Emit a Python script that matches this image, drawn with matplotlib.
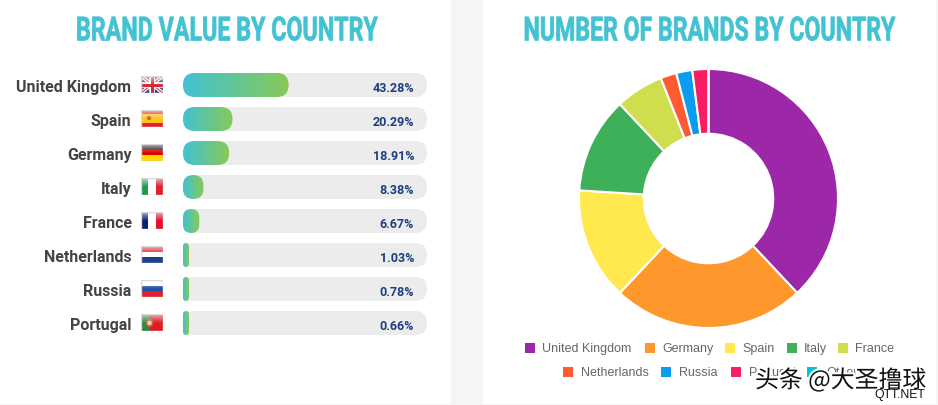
import numpy as np
import matplotlib
matplotlib.use('Agg')
import matplotlib.pyplot as plt
import matplotlib.patheffects as pe
from matplotlib.colors import LinearSegmentedColormap, to_rgb
from matplotlib.patches import FancyBboxPatch, Rectangle, Circle
from matplotlib.text import Text
from matplotlib.transforms import Affine2D, Bbox

# data
countries = ['United Kingdom', 'Spain', 'Germany', 'Italy', 'France',
             'Netherlands', 'Russia', 'Portugal']
brand_value = [43.28, 20.29, 18.91, 8.38, 6.67, 1.03, 0.78, 0.66]
value_labels = ['43.28%', '20.29%', '18.91%', '8.38%', '6.67%', '1.03%', '0.78%', '0.66%']

donut_names = ['United Kingdom', 'Germany', 'Spain', 'Italy', 'France',
               'Netherlands', 'Russia', 'Portugal', 'Other']
donut_counts = [19, 12, 7, 6, 3, 1, 1, 1, 0]
donut_colors = ['#9c27a8', '#ff982c', '#ffe94f', '#3eb05a', '#d0dd4d',
                '#ff5a32', '#0a9cf0', '#f91c66', '#00c4dc']

W, H = 938, 406
TEAL = '#42c2d2'
GREEN = '#88c957'

fig = plt.figure(figsize=(W / 100, H / 100), dpi=100, facecolor='#f5f5f5')


def px_axes(x0, y0, x1, y1):
    # axes given in picture pixels, y going down
    return fig.add_axes([x0 / W, 1 - y1 / H, (x1 - x0) / W, (y1 - y0) / H])


# no condensed font here, so the title glyphs get squeezed sideways while drawn
class Squeeze(pe.AbstractPathEffect):
    def __init__(self, sx, cx, bold=0.0):
        super().__init__()
        self.sx = sx
        self.cx = cx
        self.bold = bold

    def draw_path(self, renderer, gc, tpath, affine, rgbFace=None):
        squeezed = affine + Affine2D().translate(-self.cx, 0).scale(self.sx, 1).translate(self.cx, 0)
        gc0 = renderer.new_gc()
        gc0.copy_properties(gc)
        gc0.set_linewidth(self.bold)
        gc0.set_foreground(rgbFace)
        renderer.draw_path(gc0, tpath, squeezed, rgbFace)
        gc0.restore()


class NarrowText(Text):
    sx = 1.0

    def get_window_extent(self, renderer=None, dpi=None):
        bb = super().get_window_extent(renderer, dpi)
        mid = (bb.x0 + bb.x1) / 2
        half = bb.width * self.sx / 2
        return Bbox.from_extents(mid - half, bb.y0, mid + half, bb.y1)


def squeezed_title(cx, baseline, s, width_px):
    t = NarrowText(cx, baseline, s, color=TEAL, fontsize=24, fontweight='bold',
                   family='Roboto', ha='center', va='baseline')
    page.add_artist(t)
    full = Text.get_window_extent(t, fig.canvas.get_renderer()).width
    t.sx = width_px / full
    mid = page.transData.transform((cx, baseline))[0]
    t.set_path_effects([Squeeze(t.sx, mid, bold=0.5)])
    return t


# page layer, everything in pixels
page = px_axes(0, 0, W, H)
page.set_xlim(0, W)
page.set_ylim(H, 0)
page.axis('off')
page.add_patch(Rectangle((0, 0), 451, 405, fc='white', ec='none'))
page.add_patch(Rectangle((483, 0), 453, 405, fc='white', ec='none'))

squeezed_title(227, 41.5, 'BRAND VALUE BY COUNTRY', 302)
squeezed_title(709.5, 41.5, 'NUMBER OF BRANDS BY COUNTRY', 372)

# bars
row_h = 34
bar_top = 69
ax = px_axes(183, bar_top, 427, bar_top + row_h * len(countries))
ax.set_xlim(0, 100)
ax.set_ylim(len(countries), 0)
ax.axis('off')
px_x = 244 / 100
px_y = row_h
gradient = LinearSegmentedColormap.from_list('tg', [TEAL, GREEN])


def round_bar(row, width_px, **kw):
    r = min(12, width_px / 2)
    p = FancyBboxPatch((0, row + 0.5 - 12 / px_y), width_px / px_x, 24 / px_y,
                       boxstyle='round,pad=0,rounding_size=%f' % (r / px_x),
                       mutation_aspect=px_x / px_y, ec='none', **kw)
    ax.add_patch(p)
    return p


for i, (val, lab) in enumerate(zip(brand_value, value_labels)):
    round_bar(i, 244, fc='#ececec')
    bw = max(val * px_x, 6)
    clip = round_bar(i, bw, fc='none')
    im = ax.imshow(np.linspace(0, 1, 64).reshape(1, -1), cmap=gradient, aspect='auto',
                   extent=(0, bw / px_x, i + 1, i), zorder=3)
    im.set_clip_path(clip)
    ax.text(100 - 13 / px_x, i + 0.56, lab, color='#1b3f80', fontsize=9, fontweight='bold',
            family='Roboto', ha='right', va='center', zorder=4)
ax.set_xlim(0, 100)
ax.set_ylim(len(countries), 0)


# flags
def bands(cols, horizontal=True):
    a = np.array([[to_rgb(c)] for c in cols])
    return a if horizontal else a.transpose(1, 0, 2)


def draw_flag(row, name):
    x0, x1 = 141, 163
    yc = bar_top + row_h * (row + 0.5)
    y0, y1 = yc - 9, yc + 8
    fa = px_axes(x0, y0, x1, y1)
    fa.set_xlim(0, 22)
    fa.set_ylim(17, 0)
    fa.axis('off')
    ext = (0, 22, 17, 0)
    kw = dict(extent=ext, aspect='auto', interpolation='nearest')
    if name == 'United Kingdom':
        fa.imshow(bands(['#2d4a8e']), **kw)
        for (a, b) in [((0, 0), (22, 17)), ((0, 17), (22, 0))]:
            fa.plot(*zip(a, b), color='white', lw=2.6, solid_capstyle='butt')
            fa.plot(*zip(a, b), color='#d8344a', lw=0.8, solid_capstyle='butt')
        fa.plot([11, 11], [0, 17], color='white', lw=4)
        fa.plot([0, 22], [8.5, 8.5], color='white', lw=4)
        fa.plot([11, 11], [0, 17], color='#d8283c', lw=2.2)
        fa.plot([0, 22], [8.5, 8.5], color='#d8283c', lw=2.2)
    elif name == 'Spain':
        fa.imshow(bands(['#e8202a', '#ffc51e', '#ffc51e', '#e8202a']), **kw)
        fa.add_patch(Circle((8, 8), 2.2, fc='#d0602a', ec='none'))
    elif name == 'Germany':
        fa.imshow(bands(['#222222', '#dd0000', '#ffd800']), **kw)
    elif name == 'Italy':
        fa.imshow(bands(['#1f9a4a', '#ffffff', '#e0202a'], False), **kw)
    elif name == 'France':
        fa.imshow(bands(['#0a1f78', '#ffffff', '#e0102a'], False), **kw)
    elif name == 'Netherlands':
        fa.imshow(bands(['#d8202a', '#ffffff', '#1f3f8f']), **kw)
    elif name == 'Russia':
        fa.imshow(bands(['#ffffff', '#1f4fa8', '#e0202a']), **kw)
    elif name == 'Portugal':
        fa.imshow(np.array([[to_rgb('#2b8a3e')] * 2 + [to_rgb('#e01c24')] * 3]), **kw)
        fa.add_patch(Circle((8.5, 9), 3.2, fc='#e8d8a0', ec='#c05a40', lw=1.2))
    # glossy top fade and pale edge
    fade = np.ones((17, 1, 4))
    fade[:, 0, 3] = np.clip(0.6 - np.arange(17) / 14, 0, 1)
    fa.imshow(fade, extent=ext, aspect='auto', zorder=5)
    fa.add_patch(Rectangle((0, 0), 22, 17, fc='none', ec='#d8d8d8', lw=1, zorder=6))
    fa.set_xlim(0, 22)
    fa.set_ylim(17, 0)


for i, c in enumerate(countries):
    page.text(131.5, bar_top + row_h * (i + 0.5) + 1.3, c, color='#444444', fontsize=11.5,
              fontweight='bold', family='Roboto', ha='right', va='center')
    draw_flag(i, c)

# donut
cx, cy, r = 708.5, 199.5, 129.5
pie_ax = px_axes(cx - r, cy - r, cx + r, cy + r)
wedges, _ = pie_ax.pie(donut_counts, colors=donut_colors, startangle=90, counterclock=False,
                       radius=1, wedgeprops=dict(width=0.5, edgecolor='white', linewidth=1.5))
pie_ax.set_xlim(-1, 1)
pie_ax.set_ylim(-1, 1)

# legend, two centred rows
legend_rows = [
    (349, [(525, 542), (645, 662), (725, 742), (787, 804), (838, 855)], donut_names[:5]),
    (373, [(563, 581), (661, 679), (731, 749), (807, 826)], donut_names[5:]),
]
colors = iter(donut_colors)
for y, spots, labs in legend_rows:
    for (mx, tx), lab in zip(spots, labs):
        page.add_patch(Rectangle((mx, y - 5), 10, 10, fc=next(colors), ec='none'))
        page.text(tx, y, lab, color='#666666', fontsize=9, family='Liberation Sans',
                  ha='left', va='center')

# watermark
stroke = [pe.withStroke(linewidth=3, foreground='white')]
page.text(755, 381, '头条 @大圣撸球', color='#111111', fontsize=17.2,
          family=['Noto Sans CJK SC', 'DejaVu Sans'], ha='left', va='center',
          path_effects=stroke, zorder=10)
page.text(874, 395, 'QTT.NET', color='#111111', fontsize=8.8, family='Liberation Sans',
          ha='left', va='center', zorder=10)

fig.savefig('out.png', dpi=100, facecolor=fig.get_facecolor())
